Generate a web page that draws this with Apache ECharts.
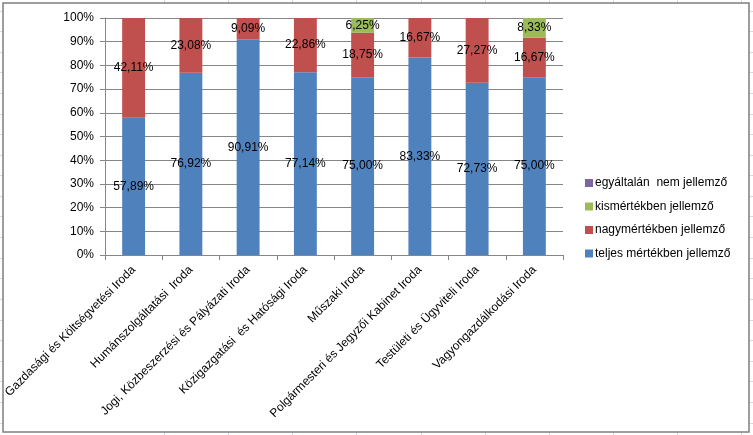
<!DOCTYPE html>
<html><head><meta charset="utf-8">
<script src="https://cdn.jsdelivr.net/npm/echarts@6/dist/echarts.min.js"></script>
<style>html,body{margin:0;padding:0;background:#fff}#c{width:753px;height:435px}</style>
</head><body><div id="c"></div>
<script>
const categories = ['Gazdasági és Költségvetési Iroda','Humánszolgáltatási  Iroda','Jogi, Közbeszerzési és Pályázati Iroda','Közigazgatási  és Hatósági Iroda','Műszaki Iroda','Polgármesteri és Jegyzői Kabinet Iroda','Testületi és Ügyviteli Iroda','Vagyongazdálkodási Iroda'];
const teljes = [57.89, 76.92, 90.91, 77.14, 75.00, 83.33, 72.73, 75.00];
const nagy = [42.11, 23.08, 9.09, 22.86, 18.75, 16.67, 27.27, 16.67];
const kis = [0, 0, 0, 0, 6.25, 0, 0, 8.33];
const egyaltalan = [0, 0, 0, 0, 0, 0, 0, 0];
const yTicks = [0,10,20,30,40,50,60,70,80,90,100];

const FONT = 'Liberation Sans';
const chart = echarts.init(document.getElementById('c'), null, {renderer:'canvas'});
const lbl = {
  show: true, position: 'inside', color: '#000', fontFamily: FONT, fontSize: 12,
  formatter: p => p.value > 0 ? p.value.toFixed(2).replace('.', ',') + '%' : ''
};
function s(name, data, color) {
  return { name, type: 'bar', stack: 'a', data, barWidth: '40%', itemStyle: { color }, label: lbl, emphasis: { disabled: true } };
}
// spreadsheet background lines
const bg = [];
for (let x = 164; x < 753; x += 64.15) {
  bg.push({ type: 'line', shape: { x1: Math.round(x)+0.5, y1: 0, x2: Math.round(x)+0.5, y2: 435 }, style: { stroke: '#d0d7e5', lineWidth: 1 }, z: -10 });
}
for (let y = 10.5; y < 435; y += 20.6) {
  bg.push({ type: 'line', shape: { x1: 0, y1: Math.round(y)+0.5, x2: 753, y2: Math.round(y)+0.5 }, style: { stroke: '#d0d7e5', lineWidth: 1 }, z: -10 });
}
bg.push({ type: 'rect', shape: { x: 3, y: 3, width: 746, height: 429 }, style: { fill: '#fff', stroke: '#7f7f7f', lineWidth: 1.5 }, z: -5 });

chart.setOption({
  animation: false,
  backgroundColor: '#fff',
  textStyle: { fontFamily: FONT },
  graphic: { elements: bg },
  grid: { left: 105, right: 190, top: 18, bottom: 180, containLabel: false },
  legend: {
    orient: 'vertical', left: 580, top: 172, itemWidth: 8, itemHeight: 8, itemGap: 11.5,
    data: ['egyáltalán  nem jellemző','kismértékben jellemző','nagymértékben jellemző','teljes mértékben jellemző'],
    textStyle: { fontFamily: FONT, fontSize: 12, color: '#000', padding: [0,0,0,-3] },
    icon: 'rect'
  },
  xAxis: {
    type: 'category', data: categories,
    axisLine: { lineStyle: { color: '#868686' } },
    axisTick: { show: true, length: 5, lineStyle: { color: '#868686' } },
    axisLabel: { rotate: 45, interval: 0, color: '#000', fontSize: 12, fontFamily: FONT, margin: 13 }
  },
  yAxis: {
    type: 'value', min: 0, max: 100, interval: 10,
    axisLine: { show: true, lineStyle: { color: '#868686' } },
    axisTick: { show: true, length: 5, lineStyle: { color: '#868686' } },
    splitLine: { lineStyle: { color: '#868686' } },
    axisLabel: { color: '#000', fontSize: 12, fontFamily: FONT, margin: 11,
      formatter: v => yTicks.includes(v) ? v + '%' : '' }
  },
  series: [
    s('teljes mértékben jellemző', teljes, '#4F81BD'),
    s('nagymértékben jellemző', nagy, '#C0504D'),
    s('kismértékben jellemző', kis, '#9BBB59'),
    s('egyáltalán  nem jellemző', egyaltalan, '#8064A2')
  ]
});
</script></body></html>
